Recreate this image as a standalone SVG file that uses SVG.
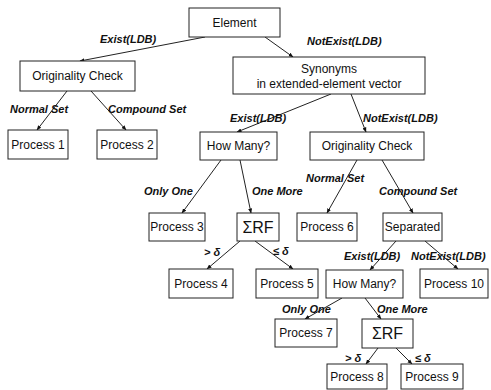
<svg xmlns="http://www.w3.org/2000/svg" width="491" height="390" viewBox="0 0 491 390">
<defs>
<style>
.box{fill:#fff;stroke:#222;stroke-width:1}
.t{font-family:"Liberation Sans",Arial,sans-serif;font-size:12px;fill:#111;text-anchor:middle}
.sig{font-family:"Liberation Sans",Arial,sans-serif;font-size:16px;fill:#111;text-anchor:middle}
.lb{font-family:"Liberation Sans",Arial,sans-serif;font-size:11px;font-style:italic;font-weight:bold;fill:#111}
.c{stroke:#222;stroke-width:1;fill:none;marker-end:url(#ah)}
</style>
<marker id="ah" viewBox="0 0 10 10" refX="9" refY="5" markerWidth="5" markerHeight="5" orient="auto" markerUnits="userSpaceOnUse">
<path d="M0,1 L10,5 L0,9 z" fill="#111"/>
</marker>
</defs>
<rect width="491" height="390" fill="#fff"/>
<g id="connectors">
<line class="c" x1="205" y1="37" x2="80" y2="61"/>
<line class="c" x1="265" y1="37" x2="293" y2="57"/>
<line class="c" x1="67" y1="91" x2="37" y2="130"/>
<line class="c" x1="91" y1="91" x2="126" y2="130"/>
<line class="c" x1="331" y1="94" x2="237" y2="132"/>
<line class="c" x1="351" y1="94" x2="366" y2="132"/>
<line class="c" x1="221" y1="160" x2="182" y2="213"/>
<line class="c" x1="240" y1="160" x2="251" y2="213"/>
<line class="c" x1="357" y1="160" x2="327" y2="213"/>
<line class="c" x1="382" y1="160" x2="413" y2="213"/>
<line class="c" x1="240" y1="241" x2="207" y2="269"/>
<line class="c" x1="255" y1="241" x2="293" y2="269"/>
<line class="c" x1="396" y1="241" x2="370" y2="270"/>
<line class="c" x1="425" y1="241" x2="458" y2="269"/>
<line class="c" x1="342" y1="298" x2="305" y2="319"/>
<line class="c" x1="365" y1="298" x2="381" y2="319"/>
<line class="c" x1="378" y1="348" x2="366" y2="364"/>
<line class="c" x1="396" y1="348" x2="412" y2="364"/>
</g>
<g id="labels">
<text class="lb" x="100" y="43">Exist(LDB)</text>
<text class="lb" x="307" y="45">NotExist(LDB)</text>
<text class="lb" x="10" y="113">Normal Set</text>
<text class="lb" x="108" y="113">Compound Set</text>
<text class="lb" x="230" y="122">Exist(LDB)</text>
<text class="lb" x="363" y="122">NotExist(LDB)</text>
<text class="lb" x="144" y="195">Only One</text>
<text class="lb" x="252" y="195">One More</text>
<text class="lb" x="306" y="182">Normal Set</text>
<text class="lb" x="379" y="195">Compound Set</text>
<text class="lb" x="204" y="256">&gt; δ</text>
<text class="lb" x="273" y="255">≤ δ</text>
<text class="lb" x="344" y="260">Exist(LDB)</text>
<text class="lb" x="411" y="260">NotExist(LDB)</text>
<text class="lb" x="282" y="313">Only One</text>
<text class="lb" x="377" y="313">One More</text>
<text class="lb" x="345" y="362">&gt; δ</text>
<text class="lb" x="415" y="362">≤ δ</text>
</g>
<g id="element"><rect class="box" x="189" y="8" width="91" height="29"/><text class="t" x="234.5" y="27">Element</text></g>
<g id="orig1"><rect class="box" x="20" y="61" width="115" height="30"/><text class="t" x="77.5" y="80">Originality Check</text></g>
<g id="synonyms"><rect class="box" x="233" y="57" width="192" height="37"/><text class="t" x="329" y="73">Synonyms</text><text class="t" x="329" y="88">in extended-element vector</text></g>
<g id="p1"><rect class="box" x="8" y="130" width="60" height="29"/><text class="t" x="38" y="149">Process 1</text></g>
<g id="p2"><rect class="box" x="97" y="130" width="60" height="29"/><text class="t" x="127" y="149">Process 2</text></g>
<g id="howmany1"><rect class="box" x="200" y="132" width="77" height="28"/><text class="t" x="238.5" y="150">How Many?</text></g>
<g id="orig2"><rect class="box" x="310" y="132" width="114" height="28"/><text class="t" x="367" y="150">Originality Check</text></g>
<g id="p3"><rect class="box" x="149" y="213" width="56" height="28"/><text class="t" x="177" y="231">Process 3</text></g>
<g id="srf1"><rect class="box" x="237" y="213" width="42" height="28"/><text class="sig" x="258" y="233">ΣRF</text></g>
<g id="p6"><rect class="box" x="297" y="213" width="60" height="28"/><text class="t" x="327" y="231">Process 6</text></g>
<g id="separated"><rect class="box" x="383" y="213" width="59" height="28"/><text class="t" x="412.5" y="231">Separated</text></g>
<g id="p4"><rect class="box" x="169" y="269" width="64" height="29"/><text class="t" x="201" y="288">Process 4</text></g>
<g id="p5"><rect class="box" x="256" y="269" width="62" height="29"/><text class="t" x="287" y="288">Process 5</text></g>
<g id="howmany2"><rect class="box" x="326" y="270" width="77" height="28"/><text class="t" x="364.5" y="288">How Many?</text></g>
<g id="p10"><rect class="box" x="420" y="269" width="68" height="29"/><text class="t" x="454" y="288">Process 10</text></g>
<g id="p7"><rect class="box" x="275" y="319" width="62" height="28"/><text class="t" x="306" y="337">Process 7</text></g>
<g id="srf2"><rect class="box" x="362" y="319" width="51" height="29"/><text class="sig" x="387.5" y="339">ΣRF</text></g>
<g id="p8"><rect class="box" x="327" y="364" width="60" height="25"/><text class="t" x="357" y="381">Process 8</text></g>
<g id="p9"><rect class="box" x="401" y="364" width="62" height="25"/><text class="t" x="432" y="381">Process 9</text></g>
</svg>
